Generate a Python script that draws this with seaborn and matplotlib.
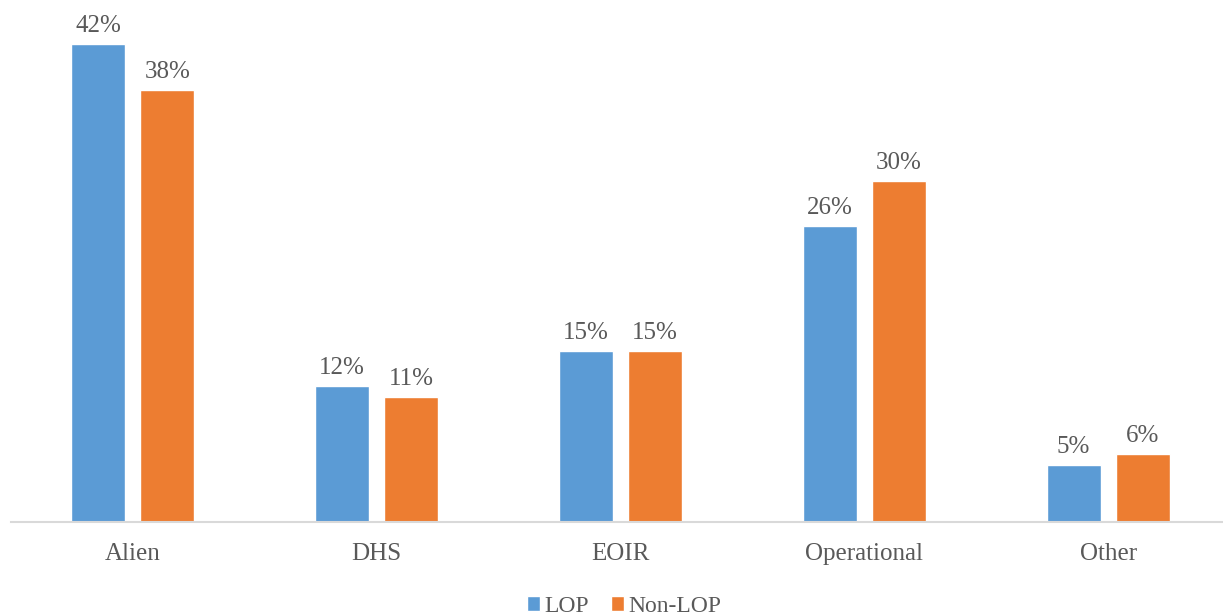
import matplotlib
matplotlib.use("Agg")
import matplotlib.pyplot as plt
import seaborn as sns
import pandas as pd

categories = ["Alien", "DHS", "EOIR", "Operational", "Other"]
lop = [42, 12, 15, 26, 5]
non_lop = [38, 11, 15, 30, 6]
series = ["LOP", "Non-LOP"]
colors = ["#5B9BD5", "#ED7D31"]

df = pd.DataFrame({
    "category": categories * 2,
    "value": lop + non_lop,
    "series": [series[0]] * len(categories) + [series[1]] * len(categories),
})

sns.set_style("white")
plt.rcParams["font.family"] = ["Liberation Serif", "DejaVu Serif"]

fig = plt.figure(figsize=(12.23, 6.15), dpi=100)
ax = fig.add_axes([11 / 1223, 1 - 522 / 615, 1219 / 1223, 522 / 615])

sns.barplot(data=df, x="category", y="value", hue="series", order=categories,
            hue_order=series, palette=colors, width=0.566, gap=0.22,
            ax=ax, legend=True, saturation=1)

ax.set_ylim(0, 45.9)
ax.set_xlim(-0.5, len(categories) - 0.5)
ax.set_xlabel("")
ax.set_ylabel("")
ax.set_yticks([])
for s in ["top", "right", "left"]:
    ax.spines[s].set_visible(False)
ax.spines["bottom"].set_color("#D9D9D9")
ax.spines["bottom"].set_linewidth(1.5)
ax.tick_params(axis="x", length=0, labelsize=18, labelcolor="#595959", pad=15)

for cont in ax.containers:
    ax.bar_label(cont, labels=[f"{v:.0f}%" for v in cont.datavalues],
                 fontsize=18, color="#595959", padding=5)

leg = ax.legend(loc="lower center", bbox_to_anchor=(0.503, -0.2), ncol=2,
                frameon=False, fontsize=17, handlelength=0.55, handleheight=0.55,
                handletextpad=0.2, columnspacing=0.9, labelcolor="#595959",
                borderaxespad=0)

fig.savefig("out.png", dpi=100)
